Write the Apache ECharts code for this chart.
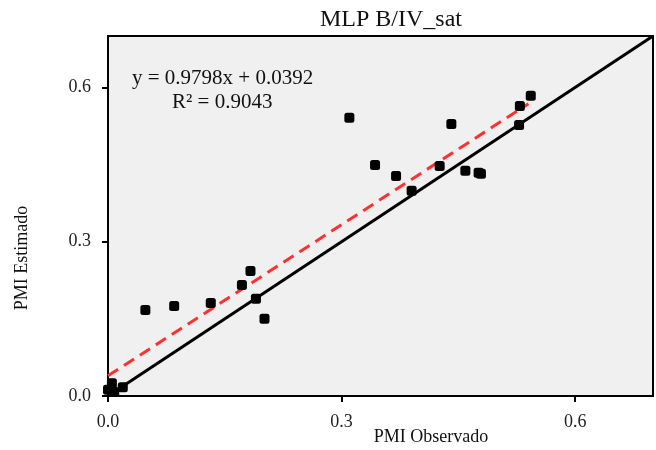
<!DOCTYPE html>
<html>
<head>
<meta charset="utf-8">
<script src="https://cdn.jsdelivr.net/npm/echarts@6/dist/echarts.min.js"></script>
<style>html,body{margin:0;padding:0;background:#fff}#c{width:656px;height:450px}</style>
</head>
<body>
<div id="c"></div>
<script>
var observed = [0.310,0.343,0.370,0.390,0.426,0.441,0.459,0.476,0.479,0.529,0.543,0.528,0.048,0.085,0.132,0.172,0.183,0.190,0.201,0.000,0.005,0.008,0.019];
var estimated = [0.541,0.449,0.428,0.399,0.447,0.529,0.438,0.434,0.432,0.564,0.584,0.527,0.167,0.175,0.181,0.216,0.243,0.189,0.150,0.012,0.025,0.008,0.017];
var slope = 0.9798, intercept = 0.0392;
var trendRange = [0, 0.54];
var identityRange = [0, 0.7];
var tickValues = [0, 0.3, 0.6];
var title = 'MLP B/IV_sat';
var xName = 'PMI Observado';
var yName = 'PMI Estimado';
var eqText = 'y = 0.9798x + 0.0392';
var r2Text = 'R² = 0.9043';

var pts = observed.map(function(x,i){return [x, estimated[i]];});
var trend = trendRange.map(function(x){return [x, slope*x+intercept];});
var ident = identityRange.map(function(x){return [x, x];});
var font = 'Liberation Serif';
var chart = echarts.init(document.getElementById('c'));
var axisCommon = {
  min: 0, max: 0.7, interval: 0.3,
  axisLine: {show: true, lineStyle: {color: '#000', width: 2}},
  axisTick: {show: true, length: 6, lineStyle: {color: '#000', width: 2}},
  splitLine: {show: false},
  axisLabel: {color: '#222', fontFamily: font, fontSize: 18, formatter: function(v){return v.toFixed(1);}, showMaxLabel: false}
};
chart.setOption({
  animation: false,
  title: {text: title, left: 386, top: 3, textAlign: 'center',
    textStyle: {fontFamily: font, fontSize: 24, fontWeight: 'normal', color: '#111'}},
  grid: {left: 108, right: 3, top: 36, bottom: 54, show: true, backgroundColor: '#f0f0f0', borderColor: '#000', borderWidth: 2},
  xAxis: Object.assign({type: 'value'}, axisCommon, {axisLabel: Object.assign({}, axisCommon.axisLabel, {margin: 17})}),
  yAxis: Object.assign({type: 'value'}, axisCommon, {axisLabel: Object.assign({}, axisCommon.axisLabel, {margin: 17})}),
  graphic: [
    {type: 'text', left: 132, top: 68, style: {text: eqText, fontFamily: font, fontSize: 21, fill: '#111'}},
    {type: 'text', left: 172, top: 92, style: {text: r2Text, fontFamily: font, fontSize: 21, fill: '#111'}},
    {type: 'text', x: 431, y: 437, style: {text: xName, fontFamily: font, fontSize: 18, fill: '#111', align: 'center', verticalAlign: 'middle'}},
    {type: 'text', x: 22, y: 258, rotation: Math.PI/2, style: {text: yName, fontFamily: font, fontSize: 18, fill: '#111', align: 'center', verticalAlign: 'middle'}}
  ],
  series: [
    {type: 'line', data: ident, symbol: 'none', lineStyle: {color: '#000', width: 3}, z: 2, silent: true},
    {type: 'line', data: trend, symbol: 'none', lineStyle: {color: '#ff3030', width: 3, type: [12, 7]}, z: 3, silent: true},
    {type: 'scatter', data: pts, symbol: 'roundRect', symbolSize: 10, itemStyle: {color: '#000', opacity: 1}, z: 4}
  ]
});
</script>
</body>
</html>
